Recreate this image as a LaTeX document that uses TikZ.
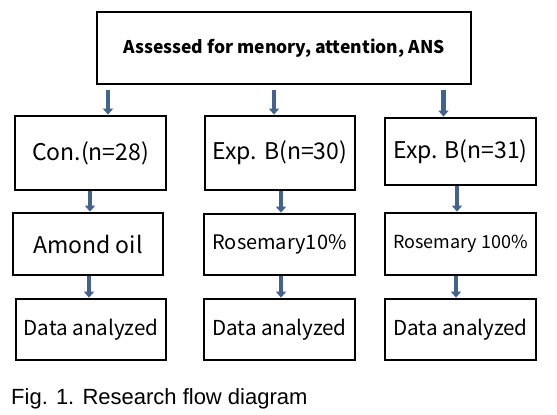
\documentclass[tikz,border=0pt]{standalone}
\usepackage{fontspec}
\setmainfont{Liberation Sans}
\newfontfamily\boxfont{Noto Sans CJK KR}
\usetikzlibrary{arrows.meta}
\definecolor{arrblue}{HTML}{41638E}
\begin{document}
\begin{tikzpicture}[x=1pt,y=-1pt,
  box/.style={draw=black,line width=2.8pt,rectangle,inner sep=0pt,
    font=\boxfont\fontsize{23}{26}\selectfont},
  arr/.style={draw=arrblue,line width=4.8pt,-{Triangle[width=10pt,length=6pt]}},
  captext/.style={anchor=base west,inner sep=0pt,font=\fontsize{22}{24}\selectfont}]
\useasboundingbox (0,0) rectangle (557,415);
% top
\node[box,minimum width=374pt,minimum height=72pt,
  font=\boxfont\bfseries\fontsize{17.5}{20}\selectfont] (top) at (284,48) {Assessed for menory, attention, ANS};
% row 1
\node[box,minimum width=151pt,minimum height=74pt] (c1) at (90.5,153) {Con.(n=28)};
\node[box,minimum width=150pt,minimum height=74pt] (c2) at (280,153) {Exp. B(n=30)};
\node[box,minimum width=151pt,minimum height=67pt] (c3) at (460.5,151.5) {Exp. B(n=31)};
% row 2
\node[box,minimum width=150pt,minimum height=62pt] (t1) at (88,244) {Amond oil};
\node[box,minimum width=151pt,minimum height=61pt,
  font=\boxfont\fontsize{20}{23}\selectfont] (t2) at (279.5,244.5) {Rosemary10\%};
\node[box,minimum width=151pt,minimum height=62pt,
  font=\boxfont\fontsize{18}{21}\selectfont] (t3) at (460.5,244) {Rosemary 100\%};
% row 3
\node[box,minimum width=150pt,minimum height=61pt,
  font=\boxfont\fontsize{20.6}{24}\selectfont] (d1) at (91,329.5) {Data analyzed};
\node[box,minimum width=151pt,minimum height=61pt,
  font=\boxfont\fontsize{20.6}{24}\selectfont] (d2) at (279.5,329.5) {Data analyzed};
\node[box,minimum width=151pt,minimum height=61pt,
  font=\boxfont\fontsize{20.6}{24}\selectfont] (d3) at (460.5,329.5) {Data analyzed};
% arrows top -> row 1
\draw[arr,shorten <=5pt] ([xshift=17.5pt]c1.north |- top.south) -- ([xshift=17.5pt]c1.north);
\draw[arr,shorten <=5pt] ([xshift=-6pt]c2.north |- top.south) -- ([xshift=-6pt]c2.north);
\draw[arr,shorten <=5pt] ([xshift=-17pt]c3.north |- top.south) -- ([xshift=-17pt]c3.north);
% row 1 -> row 2
\draw[arr] ([xshift=2pt]t1.north |- c1.south) -- ([xshift=2pt]t1.north);
\draw[arr] ([xshift=1.5pt]t2.north |- c2.south) -- ([xshift=1.5pt]t2.north);
\draw[arr] ([xshift=-3.5pt]t3.north |- c3.south) -- ([xshift=-3.5pt]t3.north);
% row 2 -> row 3
\draw[arr] ([xshift=-2pt]d1.north |- t1.south) -- ([xshift=-2pt]d1.north);
\draw[arr] ([xshift=1.5pt]d2.north |- t2.south) -- ([xshift=1.5pt]d2.north);
\draw[arr] ([xshift=-4.5pt]d3.north |- t3.south) -- ([xshift=-4.5pt]d3.north);
% caption
\node[captext] (caption) at (11,404) {Fig. 1. Research flow diagram};
\end{tikzpicture}
\end{document}
